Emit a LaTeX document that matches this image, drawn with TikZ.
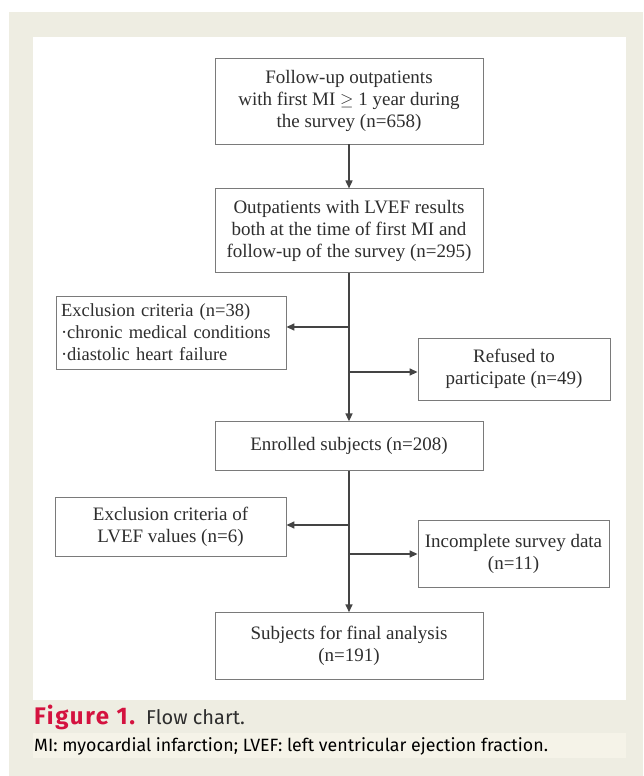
\documentclass[tikz,border=0pt]{standalone}
\usepackage{fontspec}
\setmainfont{Liberation Serif}
\newfontfamily\captionfont{Fira Sans}
\newfontfamily\figurefont[LetterSpace=7]{Fira Sans}
\usetikzlibrary{
	arrows.meta,
	positioning
}
\definecolor{pagebeige}{HTML}{EEEDE2}
\definecolor{bandbeige}{HTML}{F5F3E8}
\definecolor{figred}{HTML}{D4123F}
\definecolor{boxgrey}{HTML}{7A7A7A}
\definecolor{linegrey}{HTML}{444444}
\definecolor{textgrey}{HTML}{2E2E2E}
\tikzset{
	>={Triangle[length=8pt, width=7pt]},
	flowedge/.style={->, line width=1.6pt, draw=linegrey},
	flowbox/.style={draw=boxgrey, line width=0.9pt, fill=white, align=center, text=textgrey, font=\fontsize{19}{22}\selectfont, inner sep=0pt, minimum width=268pt},
	sidebox/.style={flowbox, minimum width=230pt},
	captiontext/.style={anchor=base west, inner sep=0pt, font=\captionfont}
}
\begin{document}
\begin{tikzpicture}[x=1pt, y=-1pt]
	\useasboundingbox (0,0) rectangle (643,776);
	\fill[pagebeige] (9,12) rectangle (643,776);
	\fill[white] (33,37) rectangle (626,700);
	\fill[bandbeige] (33,733) rectangle (626,758);

	\node[flowbox, minimum height=86pt] at (349,101) (follow) {Follow-up outpatients\\with first MI $\geq$ 1 year during\\the survey (n=658)};
	\node[flowbox, minimum height=84pt, below = 44pt of follow] (lvef) {Outpatients with LVEF results\\both at the time of first MI and\\follow-up of the survey (n=295)};
	\node[flowbox, minimum height=49pt, below = 148pt of lvef] (enrolled) {Enrolled subjects (n=208)};
	\node[flowbox, minimum height=67pt, below = 141pt of enrolled] (final) {Subjects for final analysis\\(n=191)};

	\node[sidebox, minimum height=73pt, align=left, text width=220pt, inner xsep=5pt, font=\fontsize{18.5}{22}\selectfont] at (171,332.5) (exclone) {Exclusion criteria (n=38)\\·chronic medical conditions\\·diastolic heart failure};
	\node[sidebox, minimum width=192pt, minimum height=62pt] at (514,369) (refused) {Refused to\\participate (n=49)};
	\node[sidebox, minimum width=231pt, minimum height=59pt] at (170.5,526.5) (excltwo) {Exclusion criteria of\\LVEF values (n=6)};
	\node[sidebox, minimum width=191pt, minimum height=67pt] at (513.5,553.5) (incomplete) {Incomplete survey data\\(n=11)};

	\coordinate (jone) at (349,327);
	\coordinate (jtwo) at (349,372);
	\coordinate (jthree) at (349,525);
	\coordinate (jfour) at (349,554);

	\draw[flowedge] (follow.south) -- (lvef.north);
	\draw[flowedge] (lvef.south) -- (enrolled.north);
	\draw[flowedge] (enrolled.south) -- (final.north);
	\draw[flowedge] (jone) -- (jone -| exclone.east);
	\draw[flowedge] (jtwo) -- (jtwo -| refused.west);
	\draw[flowedge] (jthree) -- (jthree -| excltwo.east);
	\draw[flowedge] (jfour) -- (jfour -| incomplete.west);

	\node[captiontext, text=figred, font=\figurefont\bfseries\fontsize{24}{28}\selectfont] at (34,724) (figlabel) {Figure 1.};
	\node[captiontext, text=textgrey, font=\captionfont\fontsize{20}{24}\selectfont] at (146,724) (figtitle) {Flow chart.};
	\node[captiontext, text=black, font=\captionfont\fontsize{17.8}{21}\selectfont] at (34,751) (abbrev) {MI: myocardial infarction; LVEF: left ventricular ejection fraction.};
\end{tikzpicture}
\end{document}
